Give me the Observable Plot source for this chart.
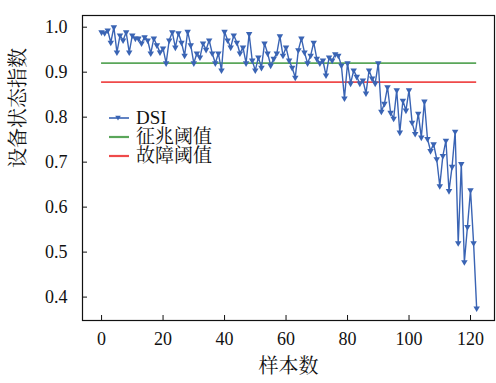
<!DOCTYPE html>
<html><head><meta charset="utf-8">
<script src="https://cdn.jsdelivr.net/npm/d3@7"></script>
<script src="https://cdn.jsdelivr.net/npm/@observablehq/plot@0.6"></script>
<style>
body{margin:0;background:#fff;}
#wrap{position:relative;width:496px;height:383px;font-family:'Liberation Serif','Noto Serif CJK SC',serif;}
#legend{position:absolute;left:108px;top:108px;font-size:19px;color:#111;line-height:19px;font-family:'Liberation Serif','Noto Serif CJK SC',serif;}
#legend .row{display:flex;align-items:center;height:19px;}
#legend svg{margin-right:6px;}
</style></head><body><div id="wrap"><div id="legend"></div></div>
<script>
const dsi = [
  0.989, 0.987, 0.993, 0.966, 1.0, 0.944, 0.982, 0.971, 0.989, 0.944, 0.982, 0.975,
  0.975, 0.964, 0.978, 0.971, 0.942, 0.975, 0.96, 0.944, 0.953, 0.92, 0.971, 0.989,
  0.955, 0.987, 0.966, 0.937, 0.99, 0.96, 0.92, 0.942, 0.933, 0.964, 0.95, 0.971,
  0.942, 0.92, 0.942, 0.904, 0.99, 0.971, 0.955, 0.982, 0.966, 0.942, 0.955, 0.92,
  0.985, 0.926, 0.904, 0.933, 0.91, 0.964, 0.942, 0.915, 0.93, 0.942, 0.98, 0.937,
  0.955, 0.926, 0.91, 0.888, 0.949, 0.975, 0.944, 0.92, 0.937, 0.966, 0.93, 0.92,
  0.926, 0.893, 0.933, 0.926, 0.94, 0.937, 0.915, 0.842, 0.92, 0.875, 0.904, 0.89,
  0.875, 0.882, 0.853, 0.904, 0.886, 0.875, 0.92, 0.8125, 0.83, 0.867, 0.81, 0.797,
  0.86, 0.766, 0.837, 0.815, 0.86, 0.788, 0.763, 0.808, 0.755, 0.835, 0.752, 0.725,
  0.74, 0.707, 0.647, 0.714, 0.748, 0.636, 0.69, 0.768, 0.52, 0.696, 0.478, 0.556,
  0.638, 0.52, 0.375
];
const sampleIndex = dsi.map((_, i) => i);
const warnThreshold = 0.92;
const faultThreshold = 0.878;
const xTicks = [0, 20, 40, 60, 80, 100, 120];
const yTicks = [0.4, 0.5, 0.6, 0.7, 0.8, 0.9, 1.0];
const seriesNames = ["DSI", "征兆阈值", "故障阈值"];
const colors = ["#3a64b4", "#5aa65a", "#ef4a4a"];
const xLabel = "样本数";
const yLabel = "设备状态指数";

const table = sampleIndex.map((i) => ({x: i, y: dsi[i]}));
const xFirst = d3.min(sampleIndex), xLast = d3.max(sampleIndex);
const font = "'Liberation Serif','Noto Serif CJK SC',serif";

const chart = Plot.plot({
  width: 496, height: 383,
  marginLeft: 82, marginRight: 2, marginTop: 15, marginBottom: 63,
  style: {fontFamily: font, fontSize: "18px", color: "#111", background: "white"},
  x: {domain: [-6.2, 127.8]},
  y: {domain: [0.348, 1.026]},
  marks: [
    Plot.ruleY([warnThreshold], {x1: xFirst, x2: xLast, stroke: colors[1], strokeWidth: 1.8}),
    Plot.ruleY([faultThreshold], {x1: xFirst, x2: xLast, stroke: colors[2], strokeWidth: 1.8}),
    Plot.line(table, {x: "x", y: "y", stroke: colors[0], strokeWidth: 1.4}),
    Plot.dot(table, {x: "x", y: "y", symbol: "triangle", rotate: 180, r: 2.4, fill: colors[0], stroke: "none"}),
    Plot.frame({stroke: "#111", strokeWidth: 1.2}),
    Plot.axisX({ticks: xTicks, tickSize: -5, tickPadding: 17, label: null, tickFormat: (d) => String(d), fontSize: 18, fontFamily: font}),
    Plot.axisY({ticks: yTicks, tickSize: -5, tickPadding: 20, label: null, tickFormat: d3.format(".1f"), fontSize: 18, fontFamily: font}),
    Plot.text([xLabel], {frameAnchor: "bottom", dy: 52, fontSize: 20, fontFamily: font, text: (d) => d}),
    Plot.text([yLabel], {frameAnchor: "left", dx: -64, rotate: -90, fontSize: 20, fontFamily: font, text: (d) => d})
  ]
});
document.getElementById("wrap").prepend(chart);

const legend = document.getElementById("legend");
seriesNames.forEach((name, i) => {
  const row = document.createElement("div");
  row.className = "row";
  const marker = i === 0 ? `<path d="M7.2,-2.3 L12.8,-2.3 L10,2.4 Z" fill="${colors[0]}"/>` : "";
  row.innerHTML = `<svg width="22" height="10" viewBox="0 -5 22 10"><line x1="1" x2="21" y1="0" y2="0" stroke="${colors[i]}" stroke-width="${i === 0 ? 1.6 : 2.2}"/>${marker}</svg><span>${name}</span>`;
  legend.appendChild(row);
});
</script>
</body></html>
